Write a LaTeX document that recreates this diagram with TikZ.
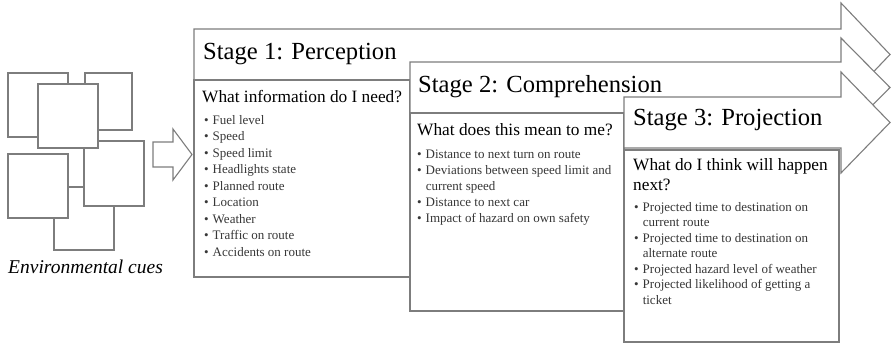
\documentclass[tikz,border=0pt]{standalone}
\usepackage{fontspec}
\setmainfont{Liberation Serif}
\definecolor{saline}{RGB}{125,125,125}
\definecolor{satext}{RGB}{55,55,55}
\usepackage{tikz}
\usetikzlibrary{positioning}

\begin{document}
\begin{tikzpicture}[x=1pt, y=-1pt,
  frame/.style={draw=saline, line width=1.1pt, fill=white, line join=miter},
  stagetitle/.style={anchor=base west, inner sep=0pt, font=\fontsize{24.6}{29}\selectfont},
  question/.style={anchor=base west, inner sep=0pt, font=\fontsize{17.3}{20}\selectfont},
  cuelist/.style={anchor=base west, inner sep=0pt, text=satext, font=\fontsize{13}{16}\selectfont}]
  \useasboundingbox (0,0) rectangle (892,343);

  % Environmental cues
  \filldraw[frame] (54,187) rectangle (114,250);
  \filldraw[frame] (84,141) rectangle (144,206);
  \filldraw[frame] (8,154) rectangle (68,218);
  \filldraw[frame] (8,73) rectangle (68,137);
  \filldraw[frame] (85,73) rectangle (132,130);
  \filldraw[frame] (38,84) rectangle (98,148);
  \node[anchor=base west, inner sep=0pt, font=\fontsize{19.5}{22}\selectfont\itshape] (cues) at (8,273) {Environmental cues};

  % Input arrow
  \filldraw[frame] (153,142) -- (173,142) -- (173,129) -- (192,154.5) -- (173,180) -- (173,167) -- (153,167) -- cycle;

  % Stage 1: Perception
  \filldraw[frame] (194,29) -- (841,29) -- (841,3) -- (890,54.5) -- (841,106) -- (841,80) -- (194,80) -- cycle;
  \filldraw[frame] (194,80) rectangle (410,277);
  \node[stagetitle] (title1) at (203,59) {Stage 1: Perception};
  \node[question] (quest1) at (202,102) {What information do I need?};
  \node[cuelist, font=\fontsize{13}{16.5}\selectfont] (list1) at (204,124) {\begin{tabular}[t]{@{}l@{\hspace{4pt}}l@{}}
    \textbullet & Fuel level\\
    \textbullet & Speed\\
    \textbullet & Speed limit\\
    \textbullet & Headlights state\\
    \textbullet & Planned route\\
    \textbullet & Location\\
    \textbullet & Weather\\
    \textbullet & Traffic on route\\
    \textbullet & Accidents on route
  \end{tabular}};

  % Stage 2: Comprehension
  \filldraw[frame] (410,62) -- (841,62) -- (841,38) -- (890,87.5) -- (841,137) -- (841,113) -- (410,113) -- cycle;
  \filldraw[frame] (410,113) rectangle (624,311);
  \node[stagetitle] (title2) at (418,92) {Stage 2: Comprehension};
  \node[question] (quest2) at (417,135) {What does this mean to me?};
  \node[cuelist] (list2) at (417,158) {\begin{tabular}[t]{@{}l@{\hspace{4pt}}l@{}}
    \textbullet & Distance to next turn on route\\
    \textbullet & Deviations between speed limit and\\
                & current speed\\
    \textbullet & Distance to next car\\
    \textbullet & Impact of hazard on own safety
  \end{tabular}};

  % Stage 3: Projection
  \filldraw[frame] (624,97) -- (841,97) -- (841,72) -- (890,122.5) -- (841,173) -- (841,148) -- (624,148) -- cycle;
  \filldraw[frame] (624,150) rectangle (839,342);
  \node[stagetitle] (title3) at (633,125) {Stage 3: Projection};
  \node[question] (quest3) at (633,170) {\begin{tabular}[t]{@{}l@{}}What do I think will happen\\next?\end{tabular}};
  \node[cuelist, font=\fontsize{13}{15.5}\selectfont] (list3) at (634,211) {\begin{tabular}[t]{@{}l@{\hspace{4pt}}l@{}}
    \textbullet & Projected time to destination on\\
                & current route\\
    \textbullet & Projected time to destination on\\
                & alternate route\\
    \textbullet & Projected hazard level of weather\\
    \textbullet & Projected likelihood of getting a\\
                & ticket
  \end{tabular}};
\end{tikzpicture}
\end{document}
